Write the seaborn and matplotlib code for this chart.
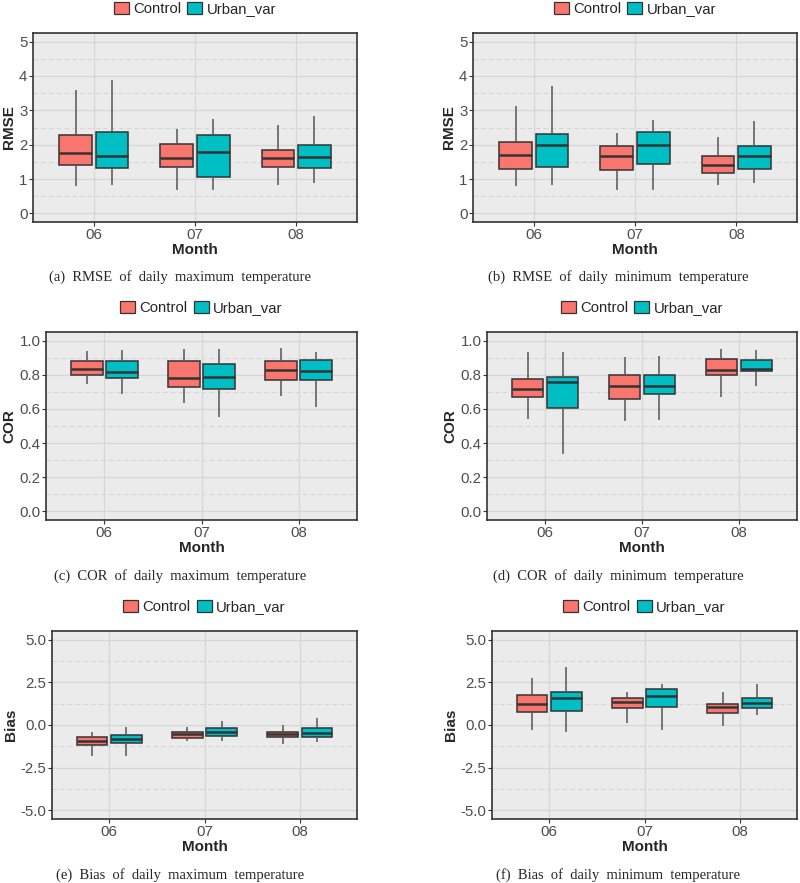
import numpy as np
import pandas as pd
import matplotlib
matplotlib.use("Agg")
import matplotlib.pyplot as plt
from matplotlib.patches import Patch
from matplotlib.ticker import MultipleLocator, FormatStrFormatter
import seaborn as sns

months = ["06", "07", "08"]
runs = ["Control", "Urban_var"]
colors = {"Control": "#F8766D", "Urban_var": "#00BFC4"}

# five-number summaries (min, q1, median, q3, max) per month
rmse_tmax_ctrl = [[0.79, 1.42, 1.77, 2.29, 3.59], [0.69, 1.34, 1.60, 2.01, 2.46], [0.82, 1.35, 1.60, 1.85, 2.58]]
rmse_tmax_urb = [[0.84, 1.31, 1.67, 2.37, 3.87], [0.69, 1.05, 1.78, 2.28, 2.74], [0.88, 1.32, 1.64, 1.98, 2.84]]
rmse_tmin_ctrl = [[0.80, 1.30, 1.71, 2.08, 3.12], [0.69, 1.25, 1.67, 1.95, 2.33], [0.83, 1.18, 1.42, 1.67, 2.23]]
rmse_tmin_urb = [[0.84, 1.35, 1.99, 2.30, 3.70], [0.69, 1.43, 1.99, 2.36, 2.73], [0.89, 1.29, 1.67, 1.95, 2.70]]
cor_tmax_ctrl = [[0.743, 0.797, 0.834, 0.882, 0.936], [0.636, 0.729, 0.779, 0.880, 0.948], [0.675, 0.770, 0.828, 0.880, 0.954]]
cor_tmax_urb = [[0.687, 0.781, 0.814, 0.880, 0.942], [0.555, 0.716, 0.789, 0.861, 0.950], [0.613, 0.772, 0.822, 0.884, 0.934]]
cor_tmin_ctrl = [[0.541, 0.670, 0.718, 0.774, 0.934], [0.529, 0.656, 0.734, 0.797, 0.903], [0.668, 0.799, 0.830, 0.890, 0.952]]
cor_tmin_urb = [[0.334, 0.604, 0.755, 0.786, 0.934], [0.537, 0.685, 0.734, 0.797, 0.909], [0.736, 0.819, 0.836, 0.888, 0.946]]
bias_tmax_ctrl = [[-1.80, -1.16, -0.93, -0.68, -0.42], [-0.91, -0.75, -0.54, -0.41, -0.12], [-1.12, -0.71, -0.54, -0.39, 0.02]]
bias_tmax_urb = [[-1.83, -1.08, -0.83, -0.56, -0.12], [-0.95, -0.62, -0.39, -0.19, 0.23], [-1.00, -0.70, -0.48, -0.19, 0.42]]
bias_tmin_ctrl = [[-0.27, 0.75, 1.20, 1.78, 2.76], [0.12, 0.97, 1.33, 1.58, 1.95], [-0.04, 0.71, 1.04, 1.24, 1.91]]
bias_tmin_urb = [[-0.39, 0.83, 1.58, 1.93, 3.42], [-0.27, 1.06, 1.72, 2.08, 2.41], [0.56, 0.98, 1.31, 1.58, 2.41]]

captions = [
    "(a)  RMSE  of  daily  maximum  temperature",
    "(b)  RMSE  of  daily  minimum  temperature",
    "(c)  COR  of  daily  maximum  temperature",
    "(d)  COR  of  daily  minimum  temperature",
    "(e)  Bias  of  daily  maximum  temperature",
    "(f)  Bias  of  daily  minimum  temperature",
]

panels = [
    ("RMSE", rmse_tmax_ctrl, rmse_tmax_urb, (0, 5), 1, 0.5, "%g"),
    ("RMSE", rmse_tmin_ctrl, rmse_tmin_urb, (0, 5), 1, 0.5, "%g"),
    ("COR", cor_tmax_ctrl, cor_tmax_urb, (0, 1), 0.2, 0.1, "%.1f"),
    ("COR", cor_tmin_ctrl, cor_tmin_urb, (0, 1), 0.2, 0.1, "%.1f"),
    ("Bias", bias_tmax_ctrl, bias_tmax_urb, (-5, 5), 2.5, 1.25, "%.1f"),
    ("Bias", bias_tmin_ctrl, bias_tmin_urb, (-5, 5), 2.5, 1.25, "%.1f"),
]

# axes boxes in pixels: left, right, top, bottom
boxes = [
    (33, 357, 33, 222), (473, 797, 33, 222),
    (46, 357, 332, 520), (487, 797, 332, 520),
    (52, 357, 631, 819), (492, 797, 631, 819),
]
caption_y = [277, 277, 576, 576, 875, 875]
caption_x = [180, 618] * 3

W, H = 800, 883
sns.set_style("white")
plt.rcParams["font.family"] = ["Liberation Sans", "DejaVu Sans"]
fig = plt.figure(figsize=(W / 100, H / 100), dpi=100)


def long_frame(ctrl, urb, name):
    rows = []
    for run, stats in (("Control", ctrl), ("Urban_var", urb)):
        for m, vals in zip(months, stats):
            for v in vals:
                rows.append({"Month": m, "run": run, name: v})
    return pd.DataFrame(rows)


for i, (name, ctrl, urb, lims, major, minor, fmt) in enumerate(panels):
    l, r, t, b = boxes[i]
    ax = fig.add_axes([l / W, 1 - b / H, (r - l) / W, (b - t) / H])
    df = long_frame(ctrl, urb, name)
    sns.boxplot(data=df, x="Month", y=name, hue="run", order=months,
                hue_order=runs, palette=colors, whis=(0, 100), width=0.72,
                gap=0.1, linewidth=1.1, linecolor="#333333", saturation=1,
                showfliers=False, legend=False, ax=ax,
                whiskerprops={"color": "#555555"}, capprops={"visible": False},
                medianprops={"color": "#333333", "linewidth": 1.8})
    ax.set_facecolor("#EBEBEB")
    span = lims[1] - lims[0]
    ax.set_ylim(lims[0] - 0.05 * span, lims[1] + 0.05 * span)
    ax.set_xlim(-0.6, 2.6)
    ax.yaxis.set_major_locator(MultipleLocator(major))
    ax.yaxis.set_minor_locator(MultipleLocator(minor))
    ax.yaxis.set_major_formatter(FormatStrFormatter(fmt))
    ax.grid(True, which="major", axis="both", color="#D6D6D6", linewidth=0.9)
    ax.grid(True, which="minor", axis="y", color="#D6D6D6", linewidth=0.8, linestyle=(0, (4, 3)))
    ax.set_axisbelow(True)
    for s in ax.spines.values():
        s.set_color("#333333")
        s.set_linewidth(1.2)
    ax.tick_params(axis="both", which="major", length=3, width=0.8, color="#333333",
                   labelsize=10.8, labelcolor="#4D4D4D", pad=1, left=True, bottom=True)
    ax.tick_params(axis="y", which="minor", length=0)
    ax.set_xlabel("Month", fontsize=11, fontweight="bold", labelpad=1)
    ax.set_ylabel(name, fontsize=11, fontweight="bold", labelpad=2)

    handles = [Patch(facecolor=colors[k], edgecolor="#333333", linewidth=0.9, label=k) for k in runs]
    ax.legend(handles=handles, ncol=2, loc="center", bbox_to_anchor=(0.5, 1 + 24 / (b - t)),
              frameon=False, fontsize=10.7, handlelength=1.0, handleheight=0.9,
              handletextpad=0.3, columnspacing=0.4, borderaxespad=0, borderpad=0)

    fig.text(caption_x[i] / W, 1 - caption_y[i] / H, captions[i], ha="center", va="center",
             fontsize=10.5, family=["Liberation Serif", "DejaVu Serif"])

fig.savefig("out.png", dpi=100)
